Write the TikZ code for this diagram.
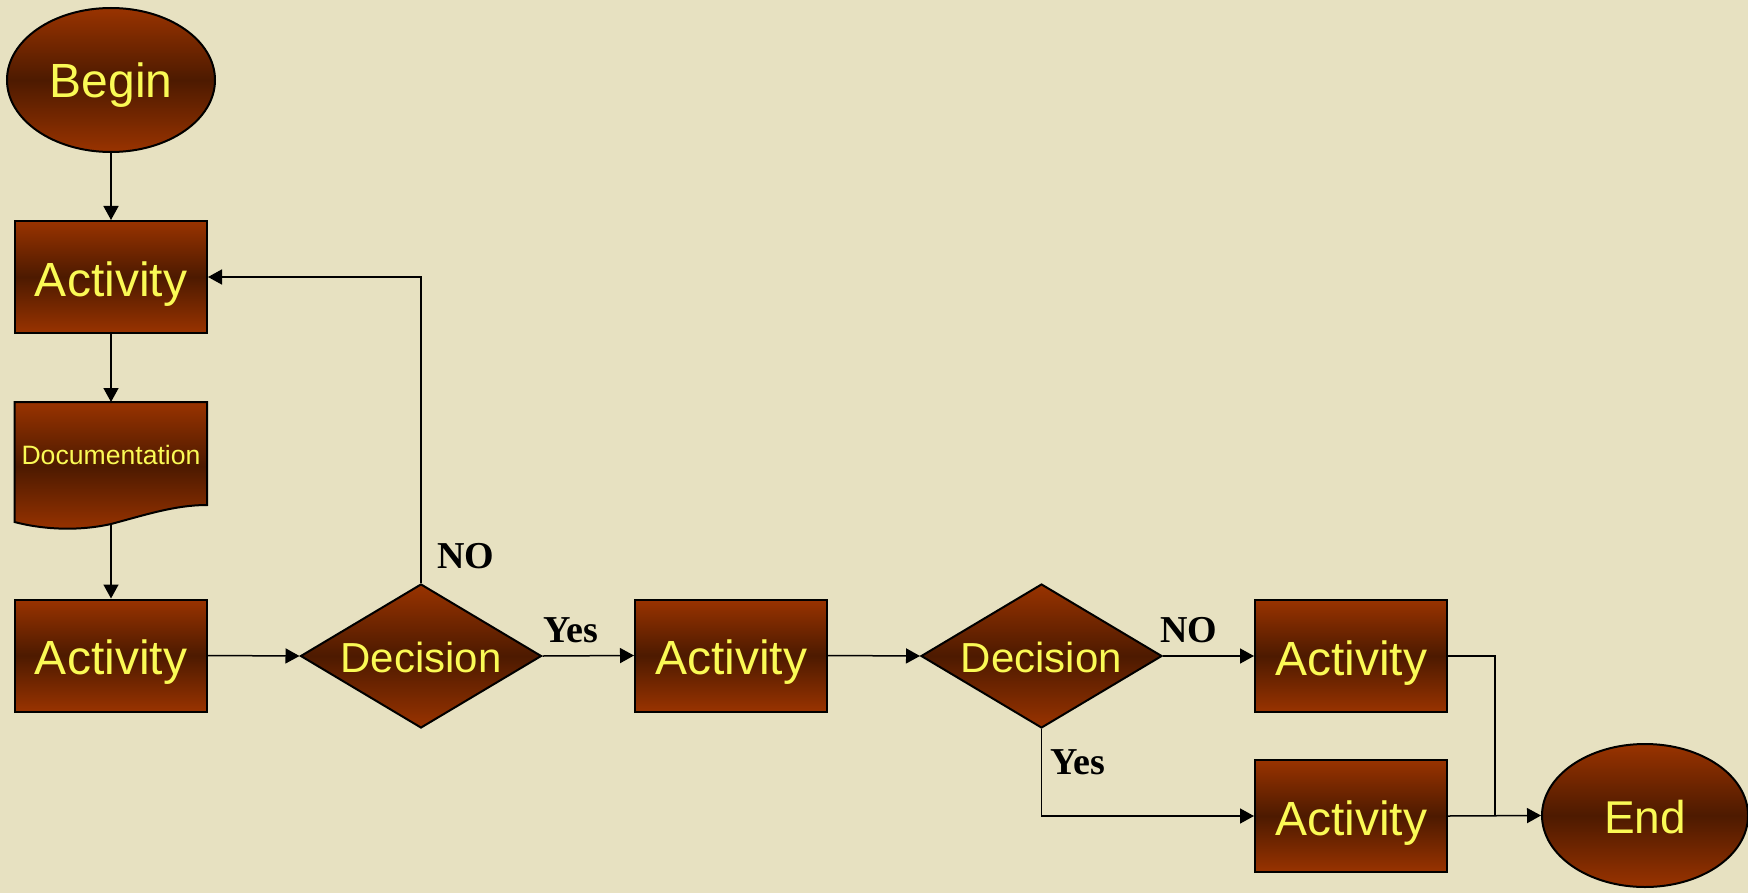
\documentclass[tikz,border=0pt]{standalone}
\usepackage{fontspec}
\setmainfont{Liberation Sans}
\newfontfamily\labfont{Liberation Serif}
\usetikzlibrary{shapes.geometric,arrows.meta}
\definecolor{bg}{RGB}{231,225,193}
\definecolor{brt}{RGB}{153,51,0}
\definecolor{brd}{RGB}{77,26,0}
\definecolor{ylw}{RGB}{250,250,85}
\tikzset{
  shp/.style={draw=black, line width=1pt, top color=brt, bottom color=brt, middle color=brd, text=ylw, inner sep=0pt, text depth=0pt, font=\fontsize{24}{28}\selectfont},
  actbox/.style={shp, rectangle, minimum width=96pt, minimum height=56pt, text height=19pt},
  term/.style={shp, ellipse, minimum width=104pt, minimum height=72pt, text height=18pt},
  decis/.style={shp, diamond, aspect=1.674, minimum width=120.5pt, minimum height=72pt, text height=16pt, font=\fontsize{21}{25}\selectfont},
  conn/.style={line width=0.75pt, -{Triangle[length=7pt,width=7.5pt]}},
  plain/.style={line width=0.75pt},
  lab/.style={font=\labfont\bfseries\fontsize{19}{22}\selectfont, text=black, inner sep=0pt}
}
\begin{document}
\begin{tikzpicture}[x=0.5pt,y=-0.5pt]
\useasboundingbox (0,0) rectangle (1748,893);
\fill[bg] (0,0) rectangle (1748,893);
% nodes
\node[term] (begin) at (111,80) {Begin};
\node[actbox] (act1) at (111,277) {Activity};
\draw[line width=1pt, top color=brt, bottom color=brt, middle color=brd]
  (14.5,402) -- (207,402) -- (207,505)
  .. controls (175,505) and (145,515) .. (111,524)
  .. controls (80,531) and (45,530) .. (14.5,522) -- cycle;
\node[text=ylw, font=\fontsize{13.3}{15}\selectfont, inner sep=0pt, text height=9pt, text depth=0pt] (doc) at (111,455) {Documentation};
\coordinate (doctop) at (111,402);
\coordinate (docbot) at (111,524);
\node[actbox] (act2) at (111,655.5) {Activity};
\node[decis] (dec1) at (421,656) {Decision};
\node[actbox] (act3) at (731,655.5) {Activity};
\node[decis] (dec2) at (1041.5,656) {Decision};
\node[actbox] (act4) at (1351,656) {Activity};
\node[actbox] (act5) at (1351,816) {Activity};
\node[term, minimum width=103pt, minimum height=71.5pt, text height=17.5pt, font=\fontsize{23}{27}\selectfont] (end) at (1645,815.5) {End};
\coordinate (join) at (1495,816);
% connectors
\draw[conn] (begin.south) -- (act1.north);
\draw[conn] (act1.south) -- (doctop);
\draw[conn] (docbot) -- (act2.north);
\draw[conn] (act2.east) -- (dec1.west);
\draw[conn] (dec1.north) |- (act1.east);
\draw[conn] (dec1.east) -- (act3.west);
\draw[conn] (act3.east) -- (dec2.west);
\draw[conn] (dec2.east) -- (act4.west);
\draw[conn] (dec2.south) |- (act5.west);
\draw[plain] (act4.east) -| (join);
\draw[conn] (act5.east) -- (end.west);
% labels
\node[lab] (no1) at (466,556) {NO};
\node[lab] (yes1) at (571,630) {Yes};
\node[lab] (no2) at (1189,630) {NO};
\node[lab] (yes2) at (1078,762) {Yes};
\end{tikzpicture}
\end{document}
